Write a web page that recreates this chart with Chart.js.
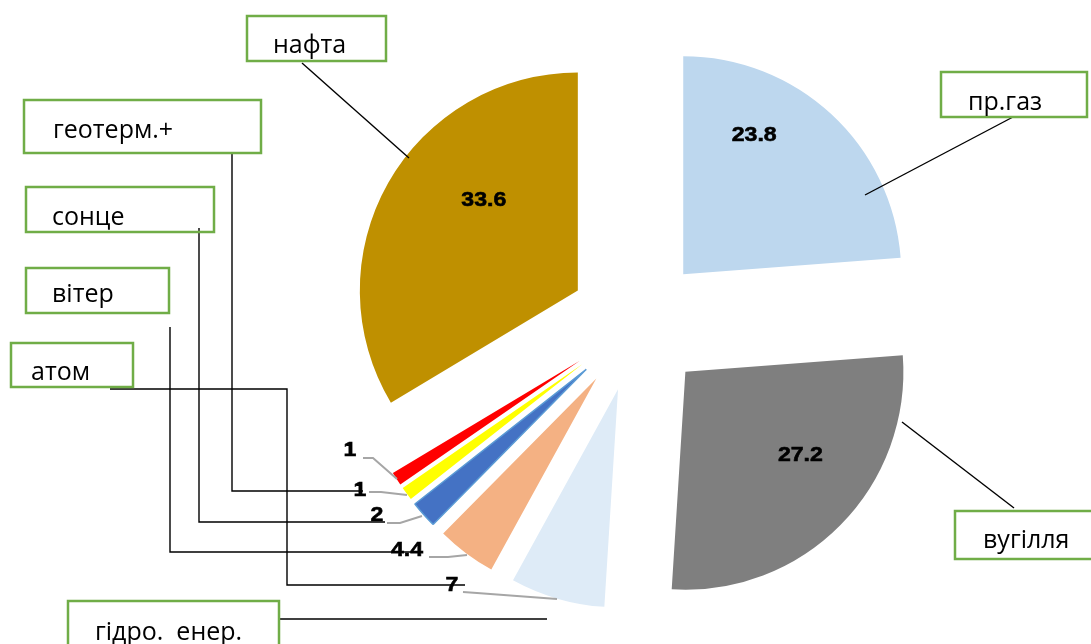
<!DOCTYPE html>
<html>
<head>
<meta charset="utf-8">
<title>Структура енергоспоживання</title>
<script src="https://cdn.jsdelivr.net/npm/chart.js@4.4.1/dist/chart.umd.min.js"></script>
<style>
  html, body { margin: 0; padding: 0; background: #fff; }
  #wrap { width: 1091px; height: 644px; }
</style>
</head>
<body>
<div id="wrap"><canvas id="energyChart" width="1091" height="644"></canvas></div>
<script>
// Data (clockwise from 12 o'clock)
const categories = ["пр.газ", "вугілля", "гідро.  енер.", "атом", "вітер", "сонце", "геотерм.+", "нафта"];
const shares = [23.8, 27.2, 7, 4.4, 2, 1, 1, 33.6];
const sliceColors = ["#BDD7EE", "#7F7F7F", "#DEEBF7", "#F4B183", "#4472C4", "#FFFF00", "#FF0000", "#BF9000"];

// Layout
const EXPLODE = 68;   // px each slice is pulled out from the centre
const GREEN = "#70AD47";

// value labels inside big slices: shift from the slice tip
const innerLabelShift = { 0: [71, -139], 1: [115, 83], 7: [-94, -90] };

// value labels of small slices with grey leaders
const outerLabels = [
  { idx: 6, at: [350, 450], leader: [[363, 458], [373, 458], [397, 479]] },
  { idx: 5, at: [360, 490], leader: [[369, 492], [381, 492], [407, 495]] },
  { idx: 4, at: [377, 515], leader: [[387, 523], [400, 523], [422, 516]] },
  { idx: 3, at: [407, 550], leader: [[429, 557], [448, 557], [467, 555]] },
  { idx: 2, at: [452, 585], leader: [[463, 592], [477, 593], [557, 599]] },
];

// category callouts: box [x, y, w, h], text position, black leader
const callouts = [
  { idx: 7, box: [247, 16, 139, 45], text: [273, 53], line: [[302, 63], [409, 158]] },
  { idx: 0, box: [941, 72, 146, 45], text: [968, 110], line: [[1013, 117], [865, 195]] },
  { idx: 1, box: [955, 511, 140, 48], text: [983, 548], line: [[1014, 508], [902, 422]] },
  { idx: 6, box: [24, 100, 237, 53], text: [53, 138], line: [[232, 152], [232, 491], [363, 491]] },
  { idx: 5, box: [26, 187, 188, 45], text: [52, 225], line: [[199, 228], [199, 522], [385, 522]] },
  { idx: 4, box: [26, 268, 143, 45], text: [52, 302], line: [[170, 327], [170, 552], [423, 552]] },
  { idx: 3, box: [11, 343, 122, 44], text: [31, 380], line: [[110, 389], [287, 389], [287, 585], [465, 585]] },
  { idx: 2, box: [68, 601, 211, 50], text: [95, 640], line: [[280, 619], [547, 619]] },
];

const polyline = (ctx, pts) => {
  ctx.beginPath();
  pts.forEach(([x, y], i) => (i ? ctx.lineTo(x, y) : ctx.moveTo(x, y)));
  ctx.stroke();
};

const valueText = (ctx, text, x, y) => {
  ctx.save();
  ctx.font = "bold 21px 'Liberation Sans', Arial, sans-serif";
  ctx.fillStyle = "#000";
  ctx.strokeStyle = "#000";
  ctx.lineWidth = 0.6;
  ctx.textAlign = "center";
  ctx.textBaseline = "middle";
  ctx.translate(x, y);
  ctx.scale(1.1, 1);
  ctx.fillText(text, 0, 0);
  ctx.strokeText(text, 0, 0);
  ctx.restore();
};

// pull every arc out along its mid angle
const explodePlugin = {
  id: "explode",
  afterDatasetsUpdate(chart) {
    chart.getDatasetMeta(0).data.forEach((arc) => {
      const mid = (arc.startAngle + arc.endAngle) / 2;
      arc.x += Math.cos(mid) * EXPLODE;
      arc.y += Math.sin(mid) * EXPLODE;
    });
  },
};

const labelsPlugin = {
  id: "pieLabels",
  afterDraw(chart) {
    const ctx = chart.ctx;
    const arcs = chart.getDatasetMeta(0).data;

    // numbers inside the big slices
    Object.keys(innerLabelShift).forEach((k) => {
      const arc = arcs[k];
      const [dx, dy] = innerLabelShift[k];
      valueText(ctx, String(shares[k]), arc.x + dx, arc.y + dy);
    });

    // numbers of small slices + grey leaders
    ctx.save();
    ctx.strokeStyle = "#A6A6A6";
    ctx.lineWidth = 2;
    outerLabels.forEach((l) => polyline(ctx, l.leader));
    ctx.restore();
    outerLabels.forEach((l) => valueText(ctx, String(shares[l.idx]), l.at[0], l.at[1]));

    // category boxes and black leaders
    ctx.save();
    ctx.strokeStyle = "#000";
    ctx.lineWidth = 1.4;
    callouts.forEach((c) => polyline(ctx, c.line));
    ctx.strokeStyle = GREEN;
    ctx.lineWidth = 2.5;
    ctx.fillStyle = "#000";
    ctx.font = "25px 'Open Sans', 'Noto Sans', sans-serif";
    ctx.textBaseline = "alphabetic";
    callouts.forEach((c) => {
      const [x, y, w, h] = c.box;
      ctx.strokeRect(x, y, w, h);
      ctx.fillText(categories[c.idx], c.text[0], c.text[1]);
    });
    ctx.restore();
  },
};

new Chart(document.getElementById("energyChart"), {
  type: "pie",
  data: {
    labels: categories,
    datasets: [
      {
        data: shares,
        backgroundColor: sliceColors,
        borderWidth: [0, 0, 0, 0, 1.5, 0, 0, 0],
        borderColor: "#5B9BD5",
      },
    ],
  },
  options: {
    responsive: false,
    animation: false,
    events: [],
    radius: 218,
    layout: { padding: { left: 183, right: 0, top: 4, bottom: 0 } },
    plugins: {
      legend: { display: false },
      tooltip: { enabled: false },
    },
  },
  plugins: [explodePlugin, labelsPlugin],
});
</script>
</body>
</html>
